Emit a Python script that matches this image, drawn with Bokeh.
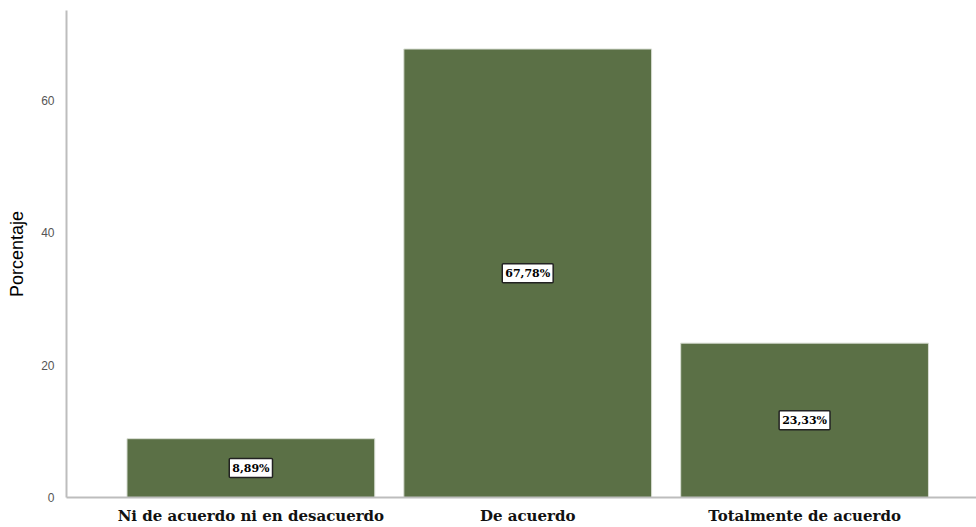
from bokeh.plotting import figure
from bokeh.models import ColumnDataSource, Label, FixedTicker, Range1d
from bokeh.embed import file_html
from bokeh.resources import INLINE

categories = ["Ni de acuerdo ni en desacuerdo", "De acuerdo", "Totalmente de acuerdo"]
values = [8.89, 67.78, 23.33]
value_labels = ["8,89%", "67,78%", "23,33%"]
y_ticks = [0, 20, 40, 60]

xs = list(range(len(categories)))
src = ColumnDataSource(dict(x=xs, top=values))

p = figure(width=976, height=527, output_backend="svg", toolbar_location=None,
           x_range=Range1d(-0.666, 2.621), y_range=Range1d(0, 73.6),
           min_border_left=66, min_border_right=0, min_border_top=10, min_border_bottom=30)

p.vbar(x="x", top="top", width=0.895, source=src,
       fill_color="#5b7046", line_color="#d9ded4", line_width=1)

for xi, v, t in zip(xs, values, value_labels):
    p.add_layout(Label(x=xi, y=v / 2, text=t,
                       text_align="center", text_baseline="middle",
                       text_font="DejaVu Serif", text_font_style="bold",
                       text_font_size="11px", text_color="black",
                       background_fill_color="white", border_line_color="#222222",
                       border_line_width=1.5, padding=3, border_radius=1))

p.xaxis.ticker = FixedTicker(ticks=xs)
p.xaxis.major_label_overrides = {i: c for i, c in enumerate(categories)}
p.xaxis.major_label_text_font = "DejaVu Serif"
p.xaxis.major_label_text_font_style = "bold"
p.xaxis.major_label_text_font_size = "15px"
p.xaxis.major_label_text_color = "#111111"
p.xaxis.major_label_standoff = 3

p.yaxis.ticker = FixedTicker(ticks=y_ticks)
p.yaxis.major_label_text_font = "Liberation Sans"
p.yaxis.major_label_text_font_size = "12px"
p.yaxis.major_label_text_color = "#555555"
p.yaxis.major_label_standoff = 6
p.yaxis.axis_label = "Porcentaje"
p.yaxis.axis_label_text_font = "Liberation Sans"
p.yaxis.axis_label_text_font_style = "normal"
p.yaxis.axis_label_text_font_size = "18px"
p.yaxis.axis_label_text_color = "black"
p.yaxis.axis_label_standoff = 11

for ax in (p.xaxis, p.yaxis):
    ax.axis_line_color = "#bdbdbd"
    ax.axis_line_width = 2
    ax.major_tick_line_color = None
    ax.minor_tick_line_color = None

p.xgrid.grid_line_color = None
p.ygrid.grid_line_color = None
p.outline_line_color = None

open("out.html", "w").write(file_html(p, INLINE))
